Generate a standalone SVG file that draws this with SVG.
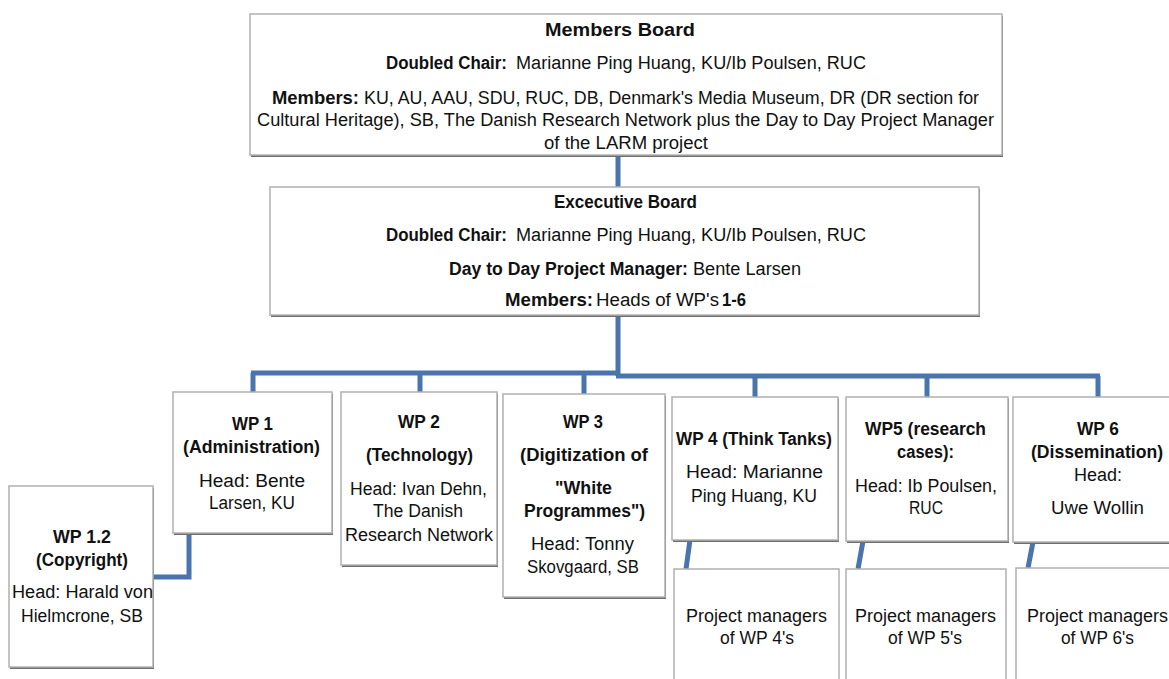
<svg xmlns="http://www.w3.org/2000/svg" width="1169" height="679" viewBox="0 0 1169 679">
<style>
text{font-family:"Liberation Sans",Arial,sans-serif;font-size:18px;fill:#111}
.b{font-weight:bold}
.c{text-anchor:middle}
.box{fill:#fff;stroke:#b0b0b0;stroke-width:1.5}
.sh{fill:#6e6e6e}
.con{fill:none;stroke:#4a74ac;stroke-width:5;stroke-linejoin:miter}
</style>
<rect width="1169" height="679" fill="#fff"/>
<g id="connectors">
<path class="con" d="M618,155 V187"/>
<path class="con" d="M618,315 V376"/>
<path class="con" d="M251,373 H620"/>
<path class="con" d="M253,373 V392 M420,373 V392 M584,373 V394"/>
<path class="con" d="M616,376 H1100"/>
<path class="con" d="M755,376 V397 M927,376 V397 M1098,376 V397"/>
<path class="con" d="M189,533 V577 H153"/>
<path class="con" d="M690,540 L686,569 M863,541 L858,569 M1033,542 L1028,568"/>
</g>
<g id="members-board">
<rect class="sh" x="251" y="16" width="752" height="141"/>
<rect class="box" x="250" y="14" width="752" height="141"/>
<text class="b c" x="620" y="36" textLength="150" lengthAdjust="spacingAndGlyphs">Members Board</text>
<text class="b" x="386" y="69" textLength="121" lengthAdjust="spacingAndGlyphs">Doubled Chair:</text>
<text x="516" y="69" textLength="350" lengthAdjust="spacingAndGlyphs">Marianne Ping Huang, KU/Ib Poulsen, RUC</text>
<text class="b" x="272" y="104" textLength="87" lengthAdjust="spacingAndGlyphs">Members:</text>
<text x="364" y="104" textLength="615" lengthAdjust="spacingAndGlyphs">KU, AU, AAU, SDU, RUC, DB, Denmark's Media Museum, DR (DR section for</text>
<text class="c" x="625.5" y="126" textLength="737" lengthAdjust="spacingAndGlyphs">Cultural Heritage), SB, The Danish Research Network plus the Day to Day Project Manager</text>
<text class="c" x="626" y="149" textLength="164" lengthAdjust="spacingAndGlyphs">of the LARM project</text>
</g>
<g id="executive-board">
<rect class="sh" x="271" y="189" width="709" height="128"/>
<rect class="box" x="270" y="187" width="709" height="128"/>
<text class="b c" x="625.5" y="208" textLength="143" lengthAdjust="spacingAndGlyphs">Excecutive Board</text>
<text class="b" x="386" y="241" textLength="121" lengthAdjust="spacingAndGlyphs">Doubled Chair:</text>
<text x="516" y="241" textLength="350" lengthAdjust="spacingAndGlyphs">Marianne Ping Huang, KU/Ib Poulsen, RUC</text>
<text class="b" x="449" y="275" textLength="239" lengthAdjust="spacingAndGlyphs">Day to Day Project Manager:</text>
<text x="693" y="275" textLength="108" lengthAdjust="spacingAndGlyphs">Bente Larsen</text>
<text class="b" x="505" y="306" textLength="88" lengthAdjust="spacingAndGlyphs">Members:</text>
<text x="596" y="306" textLength="123" lengthAdjust="spacingAndGlyphs">Heads of WP's</text>
<text class="b" x="722" y="306" textLength="24" lengthAdjust="spacingAndGlyphs">1-6</text>
</g>
<g id="wp1">
<rect class="sh" x="174" y="394" width="159" height="141"/>
<rect class="box" x="173" y="392" width="159" height="141"/>
<text class="b c" x="252.5" y="430" textLength="41" lengthAdjust="spacingAndGlyphs">WP 1</text>
<text class="b c" x="251.5" y="453" textLength="137" lengthAdjust="spacingAndGlyphs">(Administration)</text>
<text class="c" x="252" y="487" textLength="106" lengthAdjust="spacingAndGlyphs">Head:  Bente</text>
<text class="c" x="252" y="509" textLength="86" lengthAdjust="spacingAndGlyphs">Larsen, KU</text>
</g>
<g id="wp2">
<rect class="sh" x="342" y="394" width="156" height="173"/>
<rect class="box" x="341" y="392" width="156" height="173"/>
<text class="b c" x="419" y="428" textLength="42" lengthAdjust="spacingAndGlyphs">WP 2</text>
<text class="b c" x="419.5" y="461" textLength="107" lengthAdjust="spacingAndGlyphs">(Technology)</text>
<text class="c" x="418.5" y="495" textLength="137" lengthAdjust="spacingAndGlyphs">Head: Ivan Dehn,</text>
<text class="c" x="418" y="517" textLength="90" lengthAdjust="spacingAndGlyphs">The Danish</text>
<text class="c" x="419" y="541" textLength="148" lengthAdjust="spacingAndGlyphs">Research Network</text>
</g>
<g id="wp1-2">
<rect class="sh" x="10" y="488" width="144" height="181"/>
<rect class="box" x="9" y="486" width="144" height="181"/>
<text class="b c" x="82" y="543" textLength="58" lengthAdjust="spacingAndGlyphs">WP 1.2</text>
<text class="b c" x="82" y="566" textLength="92" lengthAdjust="spacingAndGlyphs">(Copyright)</text>
<text class="c" x="82.5" y="598" textLength="141" lengthAdjust="spacingAndGlyphs">Head: Harald von</text>
<text class="c" x="82" y="622" textLength="122" lengthAdjust="spacingAndGlyphs">Hielmcrone, SB</text>
</g>
<g id="wp3">
<rect class="sh" x="504" y="396" width="162" height="203"/>
<rect class="box" x="503" y="394" width="162" height="203"/>
<text class="b c" x="583" y="428" textLength="40" lengthAdjust="spacingAndGlyphs">WP 3</text>
<text class="b c" x="584" y="461" textLength="128" lengthAdjust="spacingAndGlyphs">(Digitization  of</text>
<text class="b c" x="583.5" y="494" textLength="57" lengthAdjust="spacingAndGlyphs">"White</text>
<text class="b c" x="584.5" y="517" textLength="121" lengthAdjust="spacingAndGlyphs">Programmes")</text>
<text class="c" x="582.5" y="550" textLength="103" lengthAdjust="spacingAndGlyphs">Head: Tonny</text>
<text class="c" x="583" y="573" textLength="112" lengthAdjust="spacingAndGlyphs">Skovgaard, SB</text>
</g>
<g id="wp4">
<rect class="sh" x="673" y="399" width="166" height="143"/>
<rect class="box" x="672" y="397" width="166" height="143"/>
<text class="b c" x="754" y="445" textLength="156" lengthAdjust="spacingAndGlyphs">WP 4 (Think Tanks)</text>
<text class="c" x="754.5" y="478" textLength="137" lengthAdjust="spacingAndGlyphs">Head:  Marianne</text>
<text class="c" x="754" y="502" textLength="126" lengthAdjust="spacingAndGlyphs">Ping Huang, KU</text>
</g>
<g id="wp5">
<rect class="sh" x="847" y="399" width="162" height="144"/>
<rect class="box" x="846" y="397" width="162" height="144"/>
<text class="b c" x="925.5" y="435" textLength="121" lengthAdjust="spacingAndGlyphs">WP5 (research</text>
<text class="b c" x="925.5" y="458" textLength="57" lengthAdjust="spacingAndGlyphs">cases):</text>
<text class="c" x="926" y="492" textLength="142" lengthAdjust="spacingAndGlyphs">Head: Ib Poulsen,</text>
<text class="c" x="926" y="514" textLength="34" lengthAdjust="spacingAndGlyphs">RUC</text>
</g>
<g id="wp6">
<rect class="sh" x="1014" y="399" width="170" height="145"/>
<rect class="box" x="1013" y="397" width="170" height="145"/>
<text class="b c" x="1098" y="435" textLength="42" lengthAdjust="spacingAndGlyphs">WP 6</text>
<text class="b c" x="1097" y="458" textLength="132" lengthAdjust="spacingAndGlyphs">(Dissemination)</text>
<text class="c" x="1098" y="481" textLength="48" lengthAdjust="spacingAndGlyphs">Head:</text>
<text class="c" x="1097.5" y="514" textLength="93" lengthAdjust="spacingAndGlyphs">Uwe Wollin</text>
</g>
<g id="pm4">
<rect class="box" x="674" y="569" width="165" height="130"/>
<text class="c" x="756.5" y="622" textLength="141" lengthAdjust="spacingAndGlyphs">Project managers</text>
<text class="c" x="757" y="644" textLength="74" lengthAdjust="spacingAndGlyphs">of WP 4's</text>
</g>
<g id="pm5">
<rect class="box" x="846" y="569" width="160" height="130"/>
<text class="c" x="925.5" y="622" textLength="141" lengthAdjust="spacingAndGlyphs">Project managers</text>
<text class="c" x="925" y="644" textLength="74" lengthAdjust="spacingAndGlyphs">of WP 5's</text>
</g>
<g id="pm6">
<rect class="box" x="1016" y="568" width="170" height="130"/>
<text class="c" x="1097.5" y="622" textLength="141" lengthAdjust="spacingAndGlyphs">Project managers</text>
<text class="c" x="1097.5" y="644" textLength="73" lengthAdjust="spacingAndGlyphs">of WP 6's</text>
</g>
</svg>
